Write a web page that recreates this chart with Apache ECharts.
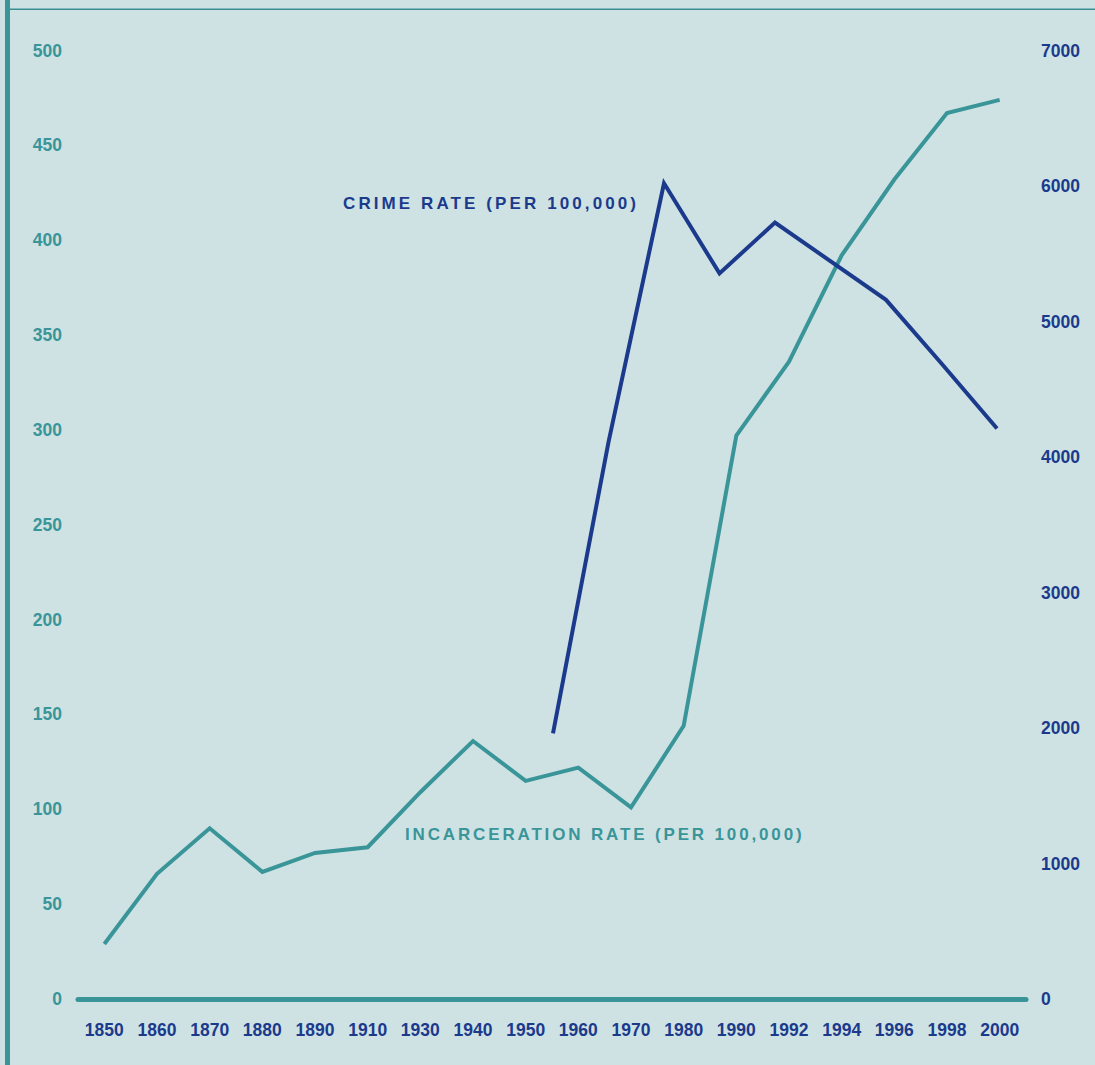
<!DOCTYPE html>
<html>
<head>
<meta charset="utf-8">
<style>
html,body{margin:0;padding:0;background:#cee2e4;}
#chart{width:1095px;height:1065px;}
</style>
<script src="https://cdn.jsdelivr.net/npm/echarts@6/dist/echarts.min.js"></script>
</head>
<body>
<div id="chart"></div>
<script>
// Categories (x axis tick labels)
const years = ['1850','1860','1870','1880','1890','1910','1930','1940','1950','1960','1970','1980','1990','1992','1994','1996','1998','2000'];
// Incarceration rate per 100,000 (left axis)
const incarceration = [29, 66, 90, 67, 77, 80, 109, 136, 115, 122, 101, 144, 297, 336, 392, 432, 467, 474];
// Crime rate per 100,000 (right axis), evenly spaced readings; one reading not distinguishable (null)
const crimePoints = ['c1','c2','c3','c4','c5','c6','c7','c8','c9'];
const crime = [1960, 4110, 6020, 5355, 5730, null, 5160, 4690, 4210];
// Axis ticks
const leftMax = 500, leftStep = 50;
const rightMax = 7000, rightStep = 1000;

const TEAL = '#3a9599';
const NAVY = '#1b3a8c';
const FONT = 'Liberation Sans';

const chart = echarts.init(document.getElementById('chart'), null, {renderer: 'svg'});
const option = {
  backgroundColor: '#cee2e4',
  animation: false,
  grid: [
    {left: 78, right: 69, top: 50.5, bottom: 66},
    {left: 553, right: 98, top: 50.5, bottom: 66}
  ],
  xAxis: [
    {
      type: 'category', gridIndex: 0, data: years, boundaryGap: true,
      axisLine: {show: true, lineStyle: {color: TEAL, width: 5}},
      axisTick: {show: false},
      axisLabel: {color: NAVY, fontFamily: FONT, fontWeight: 'bold', fontSize: 17.5, margin: 22, interval: 0},
      splitLine: {show: false}
    },
    {
      type: 'category', gridIndex: 1, data: crimePoints, boundaryGap: false, show: false
    }
  ],
  yAxis: [
    {
      type: 'value', gridIndex: 0, min: 0, max: leftMax, interval: leftStep, position: 'left',
      axisLine: {show: false}, axisTick: {show: false}, splitLine: {show: false},
      axisLabel: {color: TEAL, fontFamily: FONT, fontWeight: 'bold', fontSize: 17.5, margin: 16,
        formatter: v => String(v)}
    },
    {
      type: 'value', gridIndex: 0, min: 0, max: rightMax, interval: rightStep, position: 'right',
      axisLine: {show: false}, axisTick: {show: false}, splitLine: {show: false},
      axisLabel: {color: NAVY, fontFamily: FONT, fontWeight: 'bold', fontSize: 17.5, margin: 15,
        formatter: v => String(v)}
    },
    {
      type: 'value', gridIndex: 1, min: 0, max: rightMax, show: false, splitLine: {show: false}
    }
  ],
  series: [
    {
      name: 'INCARCERATION RATE (PER 100,000)', type: 'line', xAxisIndex: 0, yAxisIndex: 0,
      data: incarceration, symbol: 'none', z: 3,
      lineStyle: {color: TEAL, width: 4, join: 'miter'}
    },
    {
      name: 'CRIME RATE (PER 100,000)', type: 'line', xAxisIndex: 1, yAxisIndex: 2,
      data: crime, connectNulls: true, symbol: 'none', z: 4,
      lineStyle: {color: NAVY, width: 4, join: 'miter'}
    }
  ],
  graphic: [
    {type: 'rect', shape: {x: 5, y: 0, width: 5, height: 1065}, style: {fill: TEAL}, z: 10},
    {type: 'rect', shape: {x: 10, y: 8.5, width: 1085, height: 1.6}, style: {fill: '#3a8f94'}, z: 10},
    {type: 'text', x: 343, y: 203, z: 10,
     style: {text: 'CRIME RATE (PER 100,000)', fill: NAVY, font: 'bold 17px "Liberation Sans"', textVerticalAlign: 'middle', textAlign: 'left'}},
    {type: 'text', x: 405, y: 834, z: 10,
     style: {text: 'INCARCERATION RATE (PER 100,000)', fill: TEAL, font: 'bold 17px "Liberation Sans"', textVerticalAlign: 'middle', textAlign: 'left'}}
  ]
};
chart.setOption(option);

function spaceLabels(){
  document.querySelectorAll('#chart text').forEach(t => {
    const s = t.textContent;
    if (s.indexOf('CRIME RATE') >= 0) {
      t.setAttribute('letter-spacing', '3.1');
      t.style.letterSpacing = '3.1px';
    } else if (s.indexOf('INCARCERATION RATE') >= 0) {
      t.setAttribute('letter-spacing', '2.85');
      t.style.letterSpacing = '2.85px';
    }
  });
}
spaceLabels();
chart.on('finished', spaceLabels);
</script>
</body>
</html>
